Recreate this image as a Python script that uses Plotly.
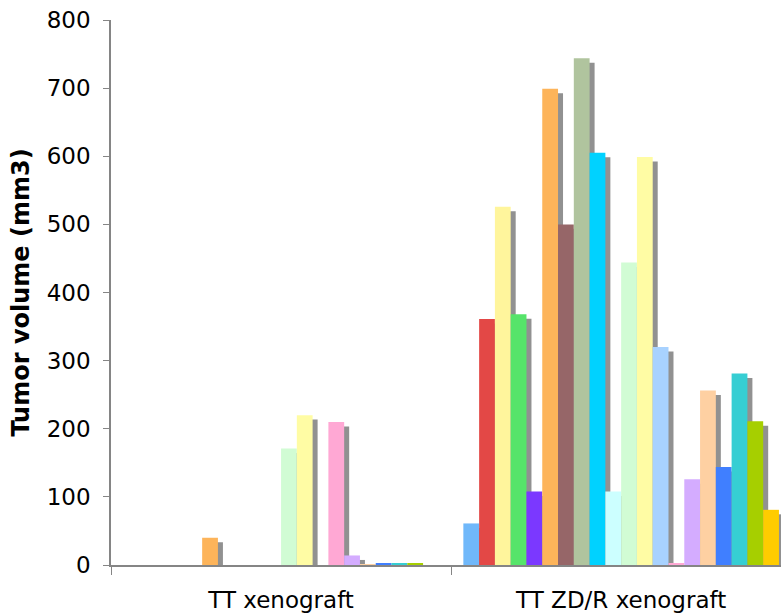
import plotly.graph_objects as go

# Tumor volumes (mm3) per animal, for the two xenograft models
categories = ["TT xenograft", "TT ZD/R xenograft"]
tt_xenograft = [0, 0, 0, 0, 0, 40, 0, 0, 0, 0,
                171, 220, 0, 210, 14, 1, 1.5, 1.5, 1.5, 0]
tt_zdr_xenograft = [61, 361, 526, 368, 108, 699, 500, 744, 605, 108,
                    444, 599, 320, 1.5, 126, 256, 144, 281, 211, 81]
y_ticks = [0, 100, 200, 300, 400, 500, 600, 700, 800]

colors = ["#70B8FA", "#E34846", "#FFF59C", "#56E46A", "#7B38FF",
          "#FDB45A", "#966668", "#B0C49E", "#00D2FF", "#CCFFFF",
          "#D1FCD4", "#FFFCA4", "#A8D2FF", "#FFA8D4", "#D4ACFF",
          "#FED0A2", "#407FFF", "#36CED3", "#A6CF00", "#FFCC00"]
shadow_color = "#919191"

n = len(colors)
bar_w = 0.0464
start = -bar_w * n / 2
shadow_dx = 0.0147   # shadow shifted right
shadow_dy = 6.6      # and down (in value units)

fig = go.Figure()
for i in range(n):
    vals = [tt_xenograft[i], tt_zdr_xenograft[i]]
    shadow_vals = [max(0.0, v - shadow_dy) for v in vals]
    fig.add_trace(go.Bar(
        x=categories, y=shadow_vals, width=bar_w, offset=start + i * bar_w + shadow_dx,
        marker=dict(color=shadow_color, line=dict(width=0)),
        showlegend=False, hoverinfo="skip"))
    fig.add_trace(go.Bar(
        x=categories, y=vals, width=bar_w, offset=start + i * bar_w,
        marker=dict(color=colors[i], line=dict(width=0)),
        name=f"Animal {i + 1}", showlegend=False))

fig.update_layout(
    width=781, height=614,
    barmode="overlay",
    plot_bgcolor="white", paper_bgcolor="white",
    margin=dict(l=111, r=0, t=20, b=49),
    font=dict(family="DejaVu Sans", size=23, color="black"),
)
fig.update_xaxes(
    type="category", range=[-0.5, 1.47],
    showline=True, linecolor="#858585", linewidth=1.5,
    ticks="outside", tickson="boundaries", ticklen=8, tickcolor="#858585",
    ticklabelstandoff=14,
    showgrid=False, zeroline=False,
    tickfont=dict(size=23),
)
fig.update_yaxes(
    range=[0, 800], tickvals=y_ticks,
    showline=True, linecolor="#858585", linewidth=1.5,
    ticks="outside", ticklen=6, tickcolor="#858585",
    ticklabelstandoff=8,
    showgrid=False, zeroline=False,
    tickfont=dict(size=23),
    title=dict(text="<b>Tumor volume (mm3)</b>", font=dict(size=24), standoff=10),
)

fig.write_html("out.html")
